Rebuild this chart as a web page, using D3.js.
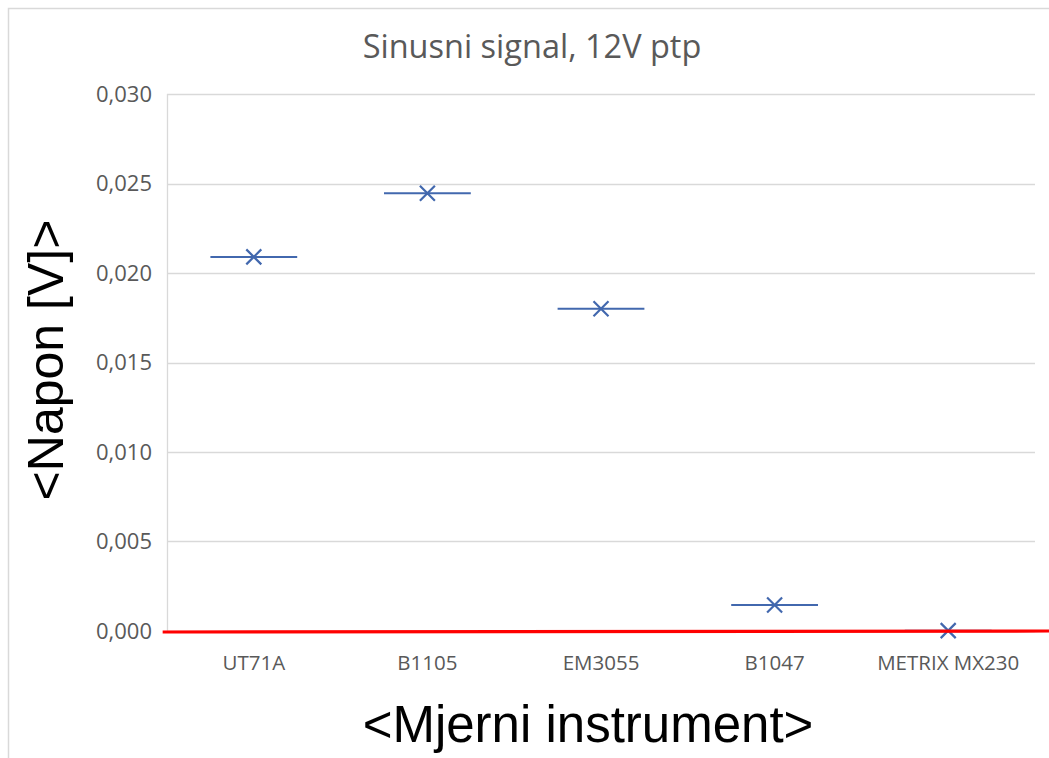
<!DOCTYPE html>
<html>
<head>
<meta charset="utf-8">
<script src="https://cdn.jsdelivr.net/npm/d3@7"></script>
<style>
  html, body { margin: 0; padding: 0; background: #fff; }
  svg { display: block; }
</style>
</head>
<body>
<svg id="chart" width="1049" height="758"></svg>
<script>
// ---- data ----
const categories = ["UT71A", "B1105", "EM3055", "B1047", "METRIX MX230"];
const values = [0.0209, 0.02445, 0.0180, 0.00145, 0.00002];
const xErrors = [0.25, 0.25, 0.25, 0.25, 0.25]; // in category units
const yTicks = [0, 0.005, 0.010, 0.015, 0.020, 0.025, 0.030];
const refLineValue = [0];
const titleText = "Sinusni signal, 12V ptp";
const yTitle = "<Napon [V]>";
const xTitle = "<Mjerni instrument>";

// ---- layout ----
const W = 1049, H = 758;
const plot = { left: 167, right: 1035, top: 94, bottom: 631 };
const calibri = "'Open Sans', 'Noto Sans', sans-serif";
const gray = "#595959";
const blue = "#4268AE";

const svg = d3.select("#chart");

// outer chart border
svg.append("rect")
  .attr("x", 8.5).attr("y", 8.5)
  .attr("width", W + 10).attr("height", H + 10)
  .attr("fill", "#fff")
  .attr("stroke", "#d9d9d9").attr("stroke-width", 1.5);

const y = d3.scaleLinear().domain([0, 0.03]).range([plot.bottom, plot.top]);
const x = d3.scaleBand().domain(categories).range([plot.left, plot.right]).padding(0);
// continuous category-unit scale for error bars
const xu = d3.scaleLinear().domain([0, categories.length]).range([plot.left, plot.right]);

// gridlines
svg.append("g").selectAll("line").data(yTicks).join("line")
  .attr("x1", plot.left).attr("x2", plot.right)
  .attr("y1", d => Math.round(y(d)) + 0.5).attr("y2", d => Math.round(y(d)) + 0.5)
  .attr("stroke", "#d9d9d9").attr("stroke-width", 1.3);

// vertical axis line
svg.append("line")
  .attr("x1", plot.left + 0.5).attr("x2", plot.left + 0.5)
  .attr("y1", plot.top).attr("y2", plot.bottom)
  .attr("stroke", "#d9d9d9").attr("stroke-width", 1.3);

// y axis (labels only)
const yAxis = d3.axisLeft(y).tickValues(yTicks)
  .tickFormat(d => d3.format(".3f")(d).replace(".", ","))
  .tickSize(0).tickPadding(15);
const gy = svg.append("g").attr("transform", `translate(${plot.left},0)`).call(yAxis);
gy.select(".domain").remove();
gy.selectAll("text").attr("fill", gray).style("font-family", calibri).style("font-size", "22px");

// x axis (labels only)
const xAxis = d3.axisBottom(x).tickSize(0).tickPadding(24);
const gx = svg.append("g").attr("transform", `translate(0,${plot.bottom})`).call(xAxis);
gx.select(".domain").remove();
gx.selectAll("text").attr("fill", gray).style("font-family", calibri).style("font-size", "20.5px");

// error bars
const pts = categories.map((c, i) => ({ c, i, v: values[i], e: xErrors[i] }));
svg.append("g").selectAll("line").data(pts).join("line")
  .attr("x1", d => xu(d.i + 0.5 - d.e)).attr("x2", d => xu(d.i + 0.5 + d.e))
  .attr("y1", d => y(d.v)).attr("y2", d => y(d.v))
  .attr("stroke", blue).attr("stroke-width", 2);

// X markers
const s = 7.5;
svg.append("g").selectAll("path").data(pts).join("path")
  .attr("d", d => {
    const cx = x(d.c) + x.bandwidth() / 2, cy = y(d.v);
    return `M${cx - s},${cy - s}L${cx + s},${cy + s}M${cx - s},${cy + s}L${cx + s},${cy - s}`;
  })
  .attr("stroke", blue).attr("stroke-width", 2.2).attr("fill", "none");

// red reference line at zero
svg.append("g").selectAll("line").data(refLineValue).join("line")
  .attr("x1", xu(-0.025)).attr("x2", xu(5.2))
  .attr("y1", d => y(d) + 1).attr("y2", d => y(d))
  .attr("stroke", "#ff0000").attr("stroke-width", 3.2);

// title
svg.append("text")
  .attr("x", 532).attr("y", 58)
  .attr("text-anchor", "middle")
  .attr("fill", gray)
  .style("font-family", calibri).style("font-size", "32.5px")
  .text(titleText);

// axis titles
svg.append("text")
  .attr("transform", `translate(63,${360}) rotate(-90)`)
  .attr("text-anchor", "middle")
  .attr("fill", "#000")
  .style("font-family", "'Liberation Sans', Arial, sans-serif").style("font-size", "50px")
  .text(yTitle);

svg.append("text")
  .attr("x", 588).attr("y", 742)
  .attr("text-anchor", "middle")
  .attr("fill", "#000")
  .style("font-family", "'Liberation Sans', Arial, sans-serif").style("font-size", "51px")
  .text(xTitle);
</script>
</body>
</html>
